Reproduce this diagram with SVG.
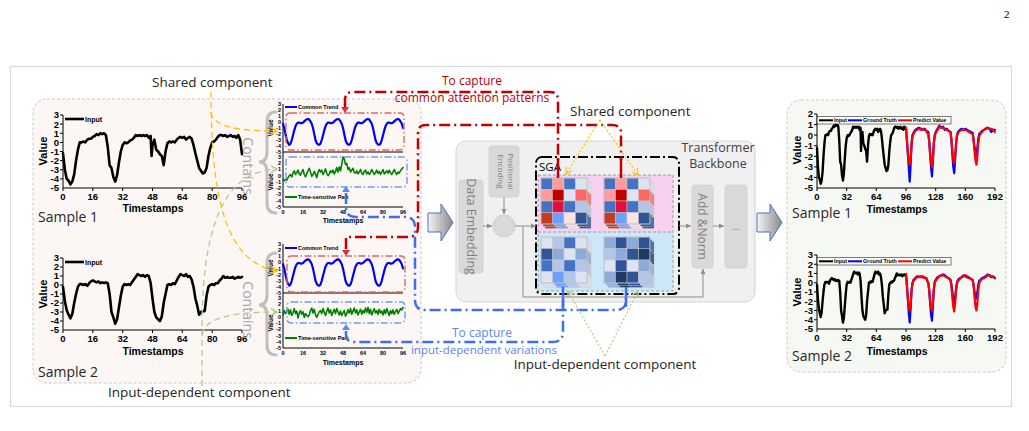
<svg xmlns="http://www.w3.org/2000/svg" width="1029" height="431" viewBox="0 0 1029 431">
<style>
.cal{font-family:"Open Sans","Noto Sans",sans-serif}
.tk{font-family:"Liberation Sans",Arial,sans-serif;font-weight:bold;fill:#000}
.ax{stroke:#000;stroke-width:1;fill:none}
.ln{fill:none;stroke-linejoin:round;stroke-linecap:round;vector-effect:non-scaling-stroke}
.gbox{fill:#d9d9d9;stroke:#cfcfcf;stroke-width:0.8}
.gtx{fill:#7f7f7f}
.red{fill:none;stroke:#c00000;stroke-width:2.5;stroke-dasharray:11,4,2,4}
.blu{fill:none;stroke:#3d6df2;stroke-width:2.5;stroke-dasharray:11,4,2,4}
.rbox{fill:none;stroke:#e06666;stroke-width:1.4;stroke-dasharray:7,2.5,1.5,2.5}
.bbox{fill:none;stroke:#6d9af5;stroke-width:1.4;stroke-dasharray:7,2.5,1.5,2.5}
.brace{fill:none;stroke:#bfbfbf;stroke-width:3;stroke-linecap:round}
.garr{stroke:#8c8c8c;stroke-width:1;fill:none}
</style>
<defs>
<marker id="ag" markerWidth="6" markerHeight="6" refX="5" refY="3" orient="auto" markerUnits="userSpaceOnUse"><path d="M0,0.5 L5,3 L0,5.5 Z" fill="#8c8c8c"/></marker>
<marker id="ay" markerWidth="8" markerHeight="8" refX="7" refY="4" orient="auto" markerUnits="userSpaceOnUse"><path d="M1,0.5 L7,4 L1,7.5" fill="none" stroke="#ffc000" stroke-width="1.5"/></marker>
<marker id="agr" markerWidth="8" markerHeight="8" refX="7" refY="4" orient="auto" markerUnits="userSpaceOnUse"><path d="M1,0.5 L7,4 L1,7.5" fill="none" stroke="#a9d18e" stroke-width="1.5"/></marker>
<marker id="ao" markerWidth="8" markerHeight="8" refX="7" refY="4" orient="auto" markerUnits="userSpaceOnUse"><path d="M1,0.5 L7,4 L1,7.5" fill="none" stroke="#ffc000" stroke-width="1.2"/></marker>
<linearGradient id="blk" x1="0" y1="0" x2="1" y2="0"><stop offset="0" stop-color="#f4f4f4"/><stop offset="1" stop-color="#8a8a8a"/></linearGradient>
<g id="mA" stroke="#c9c9c9" stroke-width="0.5">
<rect x="0" y="0" width="11.5" height="11.5" fill="#4472c4"/><rect x="11.5" y="0" width="11.5" height="11.5" fill="#ff9b9b"/><rect x="23" y="0" width="11.5" height="11.5" fill="#4472c4"/><rect x="34.5" y="0" width="11.5" height="11.5" fill="#dde3f2"/>
<rect x="0" y="11.5" width="11.5" height="11.5" fill="#ff9b9b"/><rect x="11.5" y="11.5" width="11.5" height="11.5" fill="#c00000"/><rect x="23" y="11.5" width="11.5" height="11.5" fill="#dde3f2"/><rect x="34.5" y="11.5" width="11.5" height="11.5" fill="#ff6666"/>
<rect x="0" y="23" width="11.5" height="11.5" fill="#4472c4"/><rect x="11.5" y="23" width="11.5" height="11.5" fill="#e0103a"/><rect x="23" y="23" width="11.5" height="11.5" fill="#4472c4"/><rect x="34.5" y="23" width="11.5" height="11.5" fill="#b4c6e7"/>
<rect x="0" y="34.5" width="11.5" height="11.5" fill="#c23b22"/><rect x="11.5" y="34.5" width="11.5" height="11.5" fill="#6ea0ff"/><rect x="23" y="34.5" width="11.5" height="11.5" fill="#fde3e3"/><rect x="34.5" y="34.5" width="11.5" height="11.5" fill="#2f5597"/>
</g>
<g id="mB" stroke="#c9c9c9" stroke-width="0.5">
<rect x="0" y="0" width="11.5" height="11.5" fill="#dde3f2"/><rect x="11.5" y="0" width="11.5" height="11.5" fill="#b4c6e7"/><rect x="23" y="0" width="11.5" height="11.5" fill="#4472c4"/><rect x="34.5" y="0" width="11.5" height="11.5" fill="#dde3f2"/>
<rect x="0" y="11.5" width="11.5" height="11.5" fill="#2f5597"/><rect x="11.5" y="11.5" width="11.5" height="11.5" fill="#8eaadb"/><rect x="23" y="11.5" width="11.5" height="11.5" fill="#dde3f2"/><rect x="34.5" y="11.5" width="11.5" height="11.5" fill="#8eaadb"/>
<rect x="0" y="23" width="11.5" height="11.5" fill="#4472c4"/><rect x="11.5" y="23" width="11.5" height="11.5" fill="#b4c6e7"/><rect x="23" y="23" width="11.5" height="11.5" fill="#4472c4"/><rect x="34.5" y="23" width="11.5" height="11.5" fill="#b4c6e7"/>
<rect x="0" y="34.5" width="11.5" height="11.5" fill="#dde3f2"/><rect x="11.5" y="34.5" width="11.5" height="11.5" fill="#6ea0ff"/><rect x="23" y="34.5" width="11.5" height="11.5" fill="#b4c6e7"/><rect x="34.5" y="34.5" width="11.5" height="11.5" fill="#dde3f2"/>
</g>
<g id="mC" stroke="#c9c9c9" stroke-width="0.5">
<rect x="0" y="0" width="11.5" height="11.5" fill="#8eaadb"/><rect x="11.5" y="0" width="11.5" height="11.5" fill="#2f5597"/><rect x="23" y="0" width="11.5" height="11.5" fill="#8eaadb"/><rect x="34.5" y="0" width="11.5" height="11.5" fill="#2f5597"/>
<rect x="0" y="11.5" width="11.5" height="11.5" fill="#b4c6e7"/><rect x="11.5" y="11.5" width="11.5" height="11.5" fill="#8eaadb"/><rect x="23" y="11.5" width="11.5" height="11.5" fill="#2f5597"/><rect x="34.5" y="11.5" width="11.5" height="11.5" fill="#1f3864"/>
<rect x="0" y="23" width="11.5" height="11.5" fill="#dde3f2"/><rect x="11.5" y="23" width="11.5" height="11.5" fill="#2f5597"/><rect x="23" y="23" width="11.5" height="11.5" fill="#dde3f2"/><rect x="34.5" y="23" width="11.5" height="11.5" fill="#8eaadb"/>
<rect x="0" y="34.5" width="11.5" height="11.5" fill="#8eaadb"/><rect x="11.5" y="34.5" width="11.5" height="11.5" fill="#1f3864"/><rect x="23" y="34.5" width="11.5" height="11.5" fill="#2f5597"/><rect x="34.5" y="34.5" width="11.5" height="11.5" fill="#b4c6e7"/>
</g>
<polyline id="s1" class="ln" points="0,-1.2 1,-3 2,-4 3,-4.2 4,-4.6 5,-4.3 6,-3.5 7,-2 8,-0.8 9,0 10,0 11,0.1 12,0 13,0.3 14,0.4 15,0.4 16,0.6 17,0.7 18,0.9 19,0.8 20,1 21,0.9 22,1 23,0.8 24,-0.5 25,-2.5 26,-2.8 27,-3.8 28,-4.3 29,-3.6 30,-2.2 31,-1 32,-0.3 33,0 34,-0.1 35,0 36,0.2 37,0.3 38,0.5 39,0.8 40,0.7 41,0.8 42,0.7 43,0.8 44,0.7 45,0.8 46,0.5 47,0.7 47.5,-1.5 48,-0.3 49,0.3 50,-0.8 51,-1 52,-1.3 53,-1.5 54,-2.5 55,-1 56,-0.1 57,0.1 58,0 59,0.1 60,0 61,0.3 62,0.5 63,0.6 64,0.5 65,0.6 66,0.3 67,0.5 68,0.6 69,0.4 70,-0.3 71,-1.2 72,-2 73,-2.8 74,-3.1 75,-3.4 76,-3.3 77,-2.8 78,-1.5 79,-0.6 80,0 81,0.1 82,0.3 83,0.6 84,0.8 85,0.8 86,0.7 87,0.8 88,0.6 89,0.7 90,0.8 91,0.6 92,0.7 93,0.5 94,0.8 95,0.3 96,-1.3"/>
<polyline id="s1r" class="ln" points="0,-1.2 1,-3 2,-4 3,-4.2 4,-4.6 5,-4.3 6,-3.5 7,-2 8,-0.8 9,0 10,0 11,0.1 12,0 13,0.3 14,0.4 15,0.4 16,0.6 17,0.7 18,0.9 19,0.8 20,1 21,0.9 22,1 23,0.8 24,-0.5 25,-2.5 26,-2.8 27,-3.8 28,-4.3 29,-3.6 30,-2.2 31,-1 32,-0.3 33,0 34,-0.1 35,0 36,0.2 37,0.3 38,0.5 39,0.8 40,0.7 41,0.8 42,0.7 43,0.8 44,0.7 45,0.8 46,0.5 47,0.7 47.5,-1.5 48,-0.3 49,0.3 50,-0.8 51,-1 52,-1.3 53,-1.5 54,-2.5 55,-1 56,-0.1 57,0.1 58,0 59,0.1 60,0 61,0.3 62,0.5 63,0.6 64,0.5 65,0.6 66,0.3 67,0.5 68,0.6 69,0.4 70,-0.3 71,-1.2 72,-2 73,-2.8 74,-3.1 75,-3.4 76,-3.3 77,-2.8 78,-1.5 79,-0.6 80,0 81,0.1 82,0.3 83,0.6 84,0.8 85,0.8 86,0.7 87,0.8 88,0.6 89,0.7 90,0.8 91,0.6 92,0.7 93,0.5 94,0.8 95,0.6 96,0.7"/>
<polyline id="s2" class="ln" points="0,-0.2 1,-1.8 2,-2.8 3,-3.3 4,-3.7 5,-3.2 6,-2 7,-1 8,-0.2 9,0.1 10,0.1 11,0 12,0.1 13,-0.1 14,0.2 15,0.4 16,0.5 17,0.4 18,0.3 19,0.4 20,0.2 21,0.3 22,0.2 23,0.3 24,0.2 25,-1 26,-3 27,-3.6 28,-4.3 29,-3.8 30,-2.5 31,-1.2 32,-0.2 33,0.1 34,0 35,0.1 36,0 37,0.3 38,0.6 39,0.9 40,1.2 41,1.1 42,1 43,1.1 44,0.9 45,1.1 46,1 47,0.2 48,-1.5 49,-3 50,-3.6 51,-3.8 52,-4 53,-3.5 54,-2 55,-1 56,0 57,0.1 58,0 59,0.2 60,0.1 61,0.5 62,0.9 63,1.2 64,1.1 65,1 66,1.2 67,0.9 68,1 69,0.6 70,-0.2 71,-1.5 72,-2.3 73,-3.3 74,-3 75,-2.9 76,-2.9 77,-1.2 78,-0.2 79,0 80,0.1 81,0 82,0.2 83,0.2 84,0.5 85,0.7 86,1 87,0.8 88,0.9 89,0.8 90,0.8 91,0.9 92,0.7 93,0.8 94,0.9 95,0.8 96,0.9"/>
<polyline id="ct" class="ln" points="0,-0.3 1,-1 2,-2 3,-3 4,-3.5 5,-3.8 6,-3.6 7,-3 8,-2.2 9,-1.4 10,-0.7 11,-0.3 12,-0.1 13,-0.1 14,-0.2 15,-0.2 16,-0.1 17,0.1 18,0.3 19,0.45 20,0.5 21,0.4 22,0.1 23,-0.3 24,-1 25,-2 26,-3 27,-3.5 28,-3.75 29,-3.8 30,-3.6 31,-3 32,-2.2 33,-1.4 34,-0.7 35,-0.3 36,-0.1 37,-0.1 38,-0.2 39,-0.2 40,-0.1 41,0.1 42,0.3 43,0.45 44,0.5 45,0.4 46,0.1 47,-0.3 48,-1 49,-2 50,-3 51,-3.5 52,-3.75 53,-3.8 54,-3.6 55,-3 56,-2.2 57,-1.4 58,-0.7 59,-0.3 60,-0.1 61,-0.1 62,-0.2 63,-0.2 64,-0.1 65,0.1 66,0.3 67,0.45 68,0.5 69,0.4 70,0.1 71,-0.3 72,-1 73,-2 74,-3 75,-3.5 76,-3.75 77,-3.8 78,-3.6 79,-3 80,-2.2 81,-1.4 82,-0.7 83,-0.3 84,-0.1 85,-0.1 86,-0.2 87,-0.2 88,-0.1 89,0.1 90,0.3 91,0.45 92,0.5 93,0.4 94,0.1 95,-0.3 96,-1"/>
</defs>

<rect x="10.5" y="66.5" width="1001" height="340" fill="none" stroke="#d9d9d9" stroke-width="1.2"/>
<text x="1004" y="18" font-family="Liberation Serif,serif" font-size="11" fill="#000">2</text>

<g id="left-panel">
<rect x="33" y="99" width="388" height="284" rx="14" fill="#fcf7f5" stroke="#c8c8c8" stroke-width="1" stroke-dasharray="3,2"/>
</g>

<g id="sample1-input">
<path class="ax" d="M63,115 V188 H242"/>
<path class="ax" d="M63,188 v3 M92.8,188 v3 M122.7,188 v3 M152.5,188 v3 M182.3,188 v3 M212.2,188 v3 M242,188 v3 M60,115 h3 M60,124.1 h3 M60,133.25 h3 M60,142.4 h3 M60,151.5 h3 M60,160.6 h3 M60,169.75 h3 M60,178.9 h3"/>
<g transform="translate(63,142.375) scale(1.86458,-9.125)"><use href="#s1" stroke="#000" stroke-width="2.6"/></g>
<line x1="65" y1="119" x2="84" y2="119" stroke="#000" stroke-width="2.6"/>
<text class="tk" x="85" y="121.5" font-size="7">Input</text>
<g class="tk" font-size="9.5" text-anchor="end">
<text x="59" y="118.4">3</text><text x="59" y="127.5">2</text><text x="59" y="136.6">1</text><text x="59" y="145.8">0</text><text x="59" y="154.9">-1</text><text x="59" y="164">-2</text><text x="59" y="173.1">-3</text><text x="59" y="182.3">-4</text><text x="59" y="191.4">-5</text>
</g>
<g class="tk" font-size="9.5" text-anchor="middle">
<text x="63" y="200">0</text><text x="92.8" y="200">16</text><text x="122.7" y="200">32</text><text x="152.5" y="200">48</text><text x="182.3" y="200">64</text><text x="212.2" y="200">80</text><text x="242" y="200">96</text>
</g>
<text class="tk" x="153" y="212" font-size="10.5" text-anchor="middle">Timestamps</text>
<text class="tk" font-size="11" text-anchor="middle" transform="translate(47,151) rotate(-90)">Value</text>
<text class="cal" x="38" y="222" font-size="14" fill="#262626">Sample 1</text>
</g>

<g id="sample2-input">
<path class="ax" d="M63,258 V330 H242"/>
<path class="ax" d="M63,330 v3 M92.8,330 v3 M122.7,330 v3 M152.5,330 v3 M182.3,330 v3 M212.2,330 v3 M242,330 v3 M60,258 h3 M60,267 h3 M60,276 h3 M60,285 h3 M60,294 h3 M60,303 h3 M60,312 h3 M60,321 h3"/>
<g transform="translate(63,285) scale(1.86458,-9)"><use href="#s2" stroke="#000" stroke-width="2.6"/></g>
<line x1="65" y1="262" x2="84" y2="262" stroke="#000" stroke-width="2.6"/>
<text class="tk" x="85" y="264.5" font-size="7">Input</text>
<g class="tk" font-size="9.5" text-anchor="end">
<text x="59" y="261.4">3</text><text x="59" y="270.4">2</text><text x="59" y="279.4">1</text><text x="59" y="288.4">0</text><text x="59" y="297.4">-1</text><text x="59" y="306.4">-2</text><text x="59" y="315.4">-3</text><text x="59" y="324.4">-4</text><text x="59" y="333.4">-5</text>
</g>
<g class="tk" font-size="9.5" text-anchor="middle">
<text x="63" y="342">0</text><text x="92.8" y="342">16</text><text x="122.7" y="342">32</text><text x="152.5" y="342">48</text><text x="182.3" y="342">64</text><text x="212.2" y="342">80</text><text x="242" y="342">96</text>
</g>
<text class="tk" x="153" y="355" font-size="10.5" text-anchor="middle">Timestamps</text>
<text class="tk" font-size="11" text-anchor="middle" transform="translate(47,294) rotate(-90)">Value</text>
<text class="cal" x="38" y="377" font-size="14" fill="#262626">Sample 2</text>
</g>

<g id="decomp-sample1">
<path class="brace" d="M276,112 Q267,112 267,122 L267,152 Q267,162 259,162 Q267,162 267,172 L267,203 Q267,213 276,213"/>
<text class="cal" font-size="14" fill="#a6a6a6" text-anchor="middle" dominant-baseline="central" transform="translate(248,166) rotate(90)">Contains</text>
<path class="ax" stroke-width="0.8" d="M283,104 V207 H403 M283,152 H403"/>
<g transform="translate(283,122) scale(1.25,-6)"><use href="#ct" stroke="#0000ff" stroke-width="2.2"/></g>
<g transform="translate(283,175.75) scale(1.25,-6.25)"><polyline class="ln" stroke="#008000" stroke-width="1.6" points="0,-0.5 1,-0.8 2,-0.6 3,-0.7 4,-0.3 5,0 6,0.2 7,-0.2 8,0.4 9,0.8 10,0.2 11,0.5 12,0.9 13,0.3 14,0.1 15,0.6 16,1 17,0.2 18,-0.2 19,0.3 20,0.8 21,1.2 22,0.6 23,-0.1 24,0.2 25,0.7 26,0.3 27,-0.3 28,0.5 29,1 30,0.6 31,0.9 32,0.2 33,0.6 34,1.1 35,0.4 36,0 37,0.3 38,0.8 39,0.5 40,0.9 41,0.3 42,0.7 43,1.3 44,0.6 45,1.4 46,0.8 47,1.9 48,3 49,2.7 50,1.8 51,2 52,1 53,1.3 54,0.6 55,0.9 56,1.2 57,0.5 58,0.4 59,0.8 60,0.3 61,0.6 62,1 63,0.4 64,0.2 65,0.7 66,0.9 67,0.3 68,0.6 69,0.2 70,0.5 71,1 72,0.6 73,0.2 74,0.5 75,0.9 76,0.4 77,0.7 78,0.2 79,0.6 80,1 81,0.3 82,0.5 83,0.8 84,0.4 85,0.9 86,0.5 87,0.2 88,0.6 89,1 90,0.5 91,0.2 92,0.6 93,0.4 94,0.8 95,1.1 96,1.3"/></g>
<rect class="rbox" x="286" y="113" width="118" height="37" rx="4"/>
<rect class="bbox" x="286" y="157" width="121" height="30" rx="4"/>
<path d="M341,107 H349 L345,113 Z" fill="#e03030"/>
<path d="M342,192 H350 L346,186 Z" fill="#5b8af5"/>
<line x1="285" y1="107" x2="297" y2="107" stroke="#0000ff" stroke-width="2"/>
<text class="tk" x="298" y="109" font-size="5.5">Common Trend</text>
<line x1="285" y1="197" x2="297" y2="197" stroke="#008000" stroke-width="2"/>
<text class="tk" x="298" y="199" font-size="5.5">Time-sensitive Part</text>
<g class="tk" font-size="5.5" text-anchor="end">
<text x="281" y="106">3</text><text x="281" y="112">2</text><text x="281" y="118">1</text><text x="281" y="124">0</text><text x="281" y="130">-1</text><text x="281" y="136">-2</text><text x="281" y="142">-3</text><text x="281" y="148">-4</text><text x="281" y="154">-5</text>
<text x="281" y="159">3</text><text x="281" y="165">2</text><text x="281" y="171.3">1</text><text x="281" y="177.5">0</text><text x="281" y="183.8">-1</text><text x="281" y="190">-2</text><text x="281" y="196.3">-3</text><text x="281" y="202.5">-4</text><text x="281" y="208.8">-5</text>
</g>
<g class="tk" font-size="5.5" text-anchor="middle">
<text x="283" y="214">0</text><text x="303" y="214">16</text><text x="323" y="214">32</text><text x="343" y="214">48</text><text x="363" y="214">64</text><text x="383" y="214">80</text><text x="403" y="214">96</text>
</g>
<text class="tk" x="343" y="223" font-size="7" text-anchor="middle">Timestamps</text>
<text class="tk" font-size="6.5" text-anchor="middle" transform="translate(273,128) rotate(-90)">Value</text>
<text class="tk" font-size="6.5" text-anchor="middle" transform="translate(273,182) rotate(-90)">Value</text>
</g>

<g id="decomp-sample2">
<path class="brace" d="M276,253 Q267,253 267,263 L267,295 Q267,305 259,305 Q267,305 267,315 L267,345 Q267,355 276,355"/>
<text class="cal" font-size="14" fill="#a6a6a6" text-anchor="middle" dominant-baseline="central" transform="translate(248,310) rotate(90)">Contains</text>
<path class="ax" stroke-width="0.8" d="M283,244 V348 H403 M283,293 H403"/>
<g transform="translate(283,262.375) scale(1.25,-6.125)"><use href="#ct" stroke="#0000ff" stroke-width="2.2"/></g>
<g transform="translate(283,316.75) scale(1.25,-6.25)"><polyline class="ln" stroke="#008000" stroke-width="1.6" points="0,0.3 1,1 2,0.5 3,0.8 4,1.2 5,0.4 6,1.1 7,0.2 8,0.6 9,1.3 10,0.5 11,0.9 12,-0.2 13,0.6 14,1 15,0.4 16,0.8 17,-0.1 18,0.5 19,0.2 20,0 21,0.3 22,1 23,1.4 24,0.6 25,1.2 26,0.3 27,-0.1 28,0.4 29,0.8 30,1 31,0.5 32,1.3 33,0.7 34,0.2 35,0.9 36,1.4 37,0.6 38,1.1 39,0.2 40,0.7 41,1.2 42,0.5 43,1.3 44,0.8 45,0.3 46,0.9 47,0.2 48,0.6 49,1 50,0.1 51,0.5 52,1.1 53,0.6 54,1.3 55,0.4 56,0.9 57,1.4 58,0.6 59,1.1 60,0.3 61,0.8 62,1.2 63,0.4 64,1 65,0.6 66,1.4 67,0.7 68,1.5 69,0.5 70,1.2 71,0.3 72,0.8 73,1.3 74,0.6 75,1 76,0.4 77,1.2 78,0.6 79,0.9 80,0.3 81,1.1 82,0.5 83,1.3 84,0.7 85,0.2 86,1 87,0.5 88,1.1 89,0.4 90,0.8 91,1.2 92,0.5 93,0.9 94,1.3 95,1.1 96,1.5"/></g>
<rect class="rbox" x="287" y="256" width="118" height="36" rx="4"/>
<rect class="bbox" x="287" y="302" width="118" height="21" rx="4"/>
<path d="M342,250 H350 L346,256 Z" fill="#e03030"/>
<path d="M342,330 H350 L346,324 Z" fill="#5b8af5"/>
<line x1="285" y1="248" x2="297" y2="248" stroke="#0000ff" stroke-width="2"/>
<text class="tk" x="298" y="250" font-size="5.5">Common Trend</text>
<line x1="285" y1="338" x2="297" y2="338" stroke="#008000" stroke-width="2"/>
<text class="tk" x="298" y="340" font-size="5.5">Time-sensitive Part</text>
<g class="tk" font-size="5.5" text-anchor="end">
<text x="281" y="246">3</text><text x="281" y="252.1">2</text><text x="281" y="258.3">1</text><text x="281" y="264.4">0</text><text x="281" y="270.5">-1</text><text x="281" y="276.6">-2</text><text x="281" y="282.8">-3</text><text x="281" y="288.9">-4</text><text x="281" y="295">-5</text>
<text x="281" y="300">3</text><text x="281" y="306.3">2</text><text x="281" y="312.5">1</text><text x="281" y="318.8">0</text><text x="281" y="325">-1</text><text x="281" y="331.3">-2</text><text x="281" y="337.5">-3</text><text x="281" y="343.8">-4</text><text x="281" y="350">-5</text>
</g>
<g class="tk" font-size="5.5" text-anchor="middle">
<text x="283" y="355">0</text><text x="303" y="355">16</text><text x="323" y="355">32</text><text x="343" y="355">48</text><text x="363" y="355">64</text><text x="383" y="355">80</text><text x="403" y="355">96</text>
</g>
<text class="tk" x="343" y="365" font-size="7" text-anchor="middle">Timestamps</text>
<text class="tk" font-size="6.5" text-anchor="middle" transform="translate(273,268) rotate(-90)">Value</text>
<text class="tk" font-size="6.5" text-anchor="middle" transform="translate(273,323) rotate(-90)">Value</text>
</g>

<g id="labels">
<text class="cal" x="152" y="87" font-size="13.5" fill="#262626">Shared component</text>
<text class="cal" x="108" y="397" font-size="13.5" fill="#262626">Input-dependent component</text>
<text class="cal" x="570" y="116" font-size="13.5" fill="#262626">Shared component</text>
<text class="cal" x="605" y="369" font-size="13.5" fill="#262626" text-anchor="middle">Input-dependent component</text>
<text class="cal" x="472" y="85" font-size="12" fill="#c00000" text-anchor="middle">To capture</text>
<text class="cal" x="472" y="102" font-size="12" fill="#c00000" text-anchor="middle">common attention patterns</text>
<text class="cal" x="482" y="337" font-size="12" fill="#5b84f5" text-anchor="middle">To capture</text>
<text class="cal" x="484" y="354" font-size="11.5" fill="#5b84f5" text-anchor="middle">input-dependent variations</text>
</g>

<g id="transformer-backbone">
<rect x="456" y="141" width="299" height="161" rx="10" fill="#f0f0f0" stroke="#d6d6d6" stroke-width="1"/>
<text class="cal" x="718" y="152" font-size="12.5" fill="#404040" text-anchor="middle">Transformer</text>
<text class="cal" x="718" y="168" font-size="12.5" fill="#404040" text-anchor="middle">Backbone</text>
</g>
<g id="data-embedding">
<rect class="gbox" x="459" y="180" width="24" height="93" rx="3"/>
<text class="cal gtx" font-size="12.5" text-anchor="middle" dominant-baseline="central" transform="translate(471,226.5) rotate(90)">Data Embedding</text>
</g>
<g id="positional-encoding">
<rect class="gbox" x="489" y="146" width="30" height="51" rx="3"/>
<g class="cal gtx" font-size="8" text-anchor="middle" transform="translate(504,171.5) rotate(90)"><text x="0" y="-4">Positional</text><text x="0" y="6">Encoding</text></g>
</g>
<g id="sum-node"><circle cx="504" cy="226" r="11" fill="#d9d9d9" stroke="#cfcfcf"/></g>
<g id="sga">
<rect x="536" y="157" width="143" height="137" rx="6" fill="none" stroke="#000" stroke-width="2" stroke-dasharray="10,3,2,3"/>
<rect x="538" y="175" width="135" height="57" fill="#f8d0f0"/>
<rect x="538" y="232" width="135" height="59" fill="#cce8f8"/>
<rect x="538" y="175" width="135" height="116" fill="none" stroke="#8c8c8c" stroke-width="0.8" stroke-dasharray="3,2"/>
<line x1="538" y1="232" x2="673" y2="232" stroke="#8c8c8c" stroke-width="0.8" stroke-dasharray="3,2"/>
<text class="cal" x="539" y="171" font-size="11.5" fill="#000">SGA</text>
</g>
<g id="shared-matrix-1" transform="translate(541,178)">
<use href="#mA" x="4" y="4.5"/><use href="#mA" x="2" y="2.3"/><use href="#mA"/>
<rect width="46" height="46" fill="none" stroke="#bdbdbd" stroke-width="0.8"/>
</g>
<g id="shared-matrix-2" transform="translate(604,178)">
<use href="#mA" x="4" y="4.5"/><use href="#mA" x="2" y="2.3"/><use href="#mA"/>
<rect width="46" height="46" fill="none" stroke="#bdbdbd" stroke-width="0.8"/>
</g>
<g id="input-matrix-1" transform="translate(541,237)">
<use href="#mB" x="4" y="4.5"/><use href="#mB" x="2" y="2.3"/><use href="#mB"/>
<rect width="46" height="46" fill="none" stroke="#bdbdbd" stroke-width="0.8"/>
</g>
<g id="input-matrix-2" transform="translate(604,237)">
<use href="#mC" x="4" y="4.5"/><use href="#mC" x="2" y="2.3"/><use href="#mC"/>
<rect width="46" height="46" fill="none" stroke="#bdbdbd" stroke-width="0.8"/>
</g>
<g id="add-norm">
<rect class="gbox" x="692" y="185" width="21" height="83" rx="3"/>
<text class="cal gtx" font-size="12" text-anchor="middle" dominant-baseline="central" transform="translate(702.5,226.5) rotate(90)">Add &amp;Norm</text>
</g>
<g id="more-layers">
<rect class="gbox" x="725" y="185" width="22" height="83" rx="3"/>
<text class="cal gtx" x="736" y="230" font-size="11" text-anchor="middle">...</text>
</g>

<g id="block-arrow-1"><path d="M428,213 H441 V204 L453,222.5 L441,241 V232 H428 Z" fill="url(#blk)" stroke="#4472c4" stroke-width="1"/></g>
<g id="block-arrow-2"><path d="M757,213 H770 V204 L782,222.5 L770,241 V232 H757 Z" fill="url(#blk)" stroke="#4472c4" stroke-width="1"/></g>

<g id="right-panel">
<rect x="787" y="100" width="219" height="272" rx="14" fill="#f6f8f3" stroke="#c8c8c8" stroke-width="1" stroke-dasharray="3,2"/>
</g>
<g id="forecast-sample1">
<path class="ax" d="M817,114 V188 H995"/>
<path class="ax" d="M817,188 v3 M846.7,188 v3 M876.3,188 v3 M906,188 v3 M935.7,188 v3 M965.3,188 v3 M995,188 v3 M814,114 h3 M814,124.6 h3 M814,135.1 h3 M814,145.7 h3 M814,156.3 h3 M814,166.9 h3 M814,177.4 h3"/>
<g transform="translate(817,135.14) scale(0.92708,-10.571)">
<use href="#s1r" stroke="#000" stroke-width="2.4"/>
<polyline class="ln" stroke="#0000ff" stroke-width="2.2" points="96,0.7 97,-0.5 98,-1.8 99,-3 100,-4.4 101,-2.8 102,-0.8 103,0 104,0.2 106,0.5 108,0.6 110,0.7 112,0.6 114,0.5 116,0.6 118,0.4 119,0.3 120,0.3 121,-0.5 122,-1.8 123,-3 124,-3.9 125,-2.5 126,-0.8 127,0 128,0.3 130,0.6 132,0.9 134,0.7 136,0.8 138,0.5 140,0.6 142,0.4 144,0.3 145,-0.5 146,-1.8 147,-3 148,-3.6 149,-2.3 150,-0.8 151,0 152,0.3 154,0.5 156,0.6 158,0.5 160,0.6 162,0.5 164,0.4 166,0.3 168,0.2 169,-0.5 170,-1.2 171,-1.6 172,-1.9 173,-1.2 174,-0.3 175,0.1 176,0.2 178,0.4 180,0.5 182,0.6 184,0.7 186,0.6 188,0.3 190,0.5 192,0.5"/>
<polyline class="ln" stroke="#ff0000" stroke-width="2.2" points="96,0.7 97,-0.5 98,-1.6 99,-2.4 100,-2.8 101,-2.3 102,-0.8 103,-0.1 104,0.1 106,0.4 108,0.5 110,0.6 112,0.5 114,0.6 116,0.5 118,0.4 119,0.2 120,0.1 121,-0.6 122,-1.7 123,-2.6 124,-3 125,-2.2 126,-0.8 127,-0.1 128,0.2 130,0.5 132,0.8 134,0.7 136,0.7 138,0.6 140,0.5 142,0.4 144,0.3 145,-0.4 146,-1.5 147,-2.3 148,-2.7 149,-2 150,-0.8 151,-0.1 152,0.2 154,0.4 156,0.5 158,0.5 160,0.5 162,0.4 164,0.3 166,0.2 168,0.1 169,-0.6 170,-1.6 171,-2.4 172,-2.8 173,-2 174,-0.7 175,-0.1 176,0.1 178,0.3 180,0.5 182,0.6 184,0.7 186,0.6 188,0.6 190,0.5 192,0.3"/>
</g>
<rect x="817" y="116.5" width="134" height="7.5" fill="#fff" fill-opacity="0.6" stroke="#000" stroke-width="0.5"/>
<line x1="819" y1="120.3" x2="833" y2="120.3" stroke="#000" stroke-width="2"/><text class="tk" x="834" y="122.3" font-size="5.3">Input</text>
<line x1="848" y1="120.3" x2="862" y2="120.3" stroke="#0000ff" stroke-width="2"/><text class="tk" x="863" y="122.3" font-size="5.3">Ground Truth</text>
<line x1="898" y1="120.3" x2="912" y2="120.3" stroke="#ff0000" stroke-width="2"/><text class="tk" x="913" y="122.3" font-size="5.3">Predict Value</text>
<g class="tk" font-size="9.5" text-anchor="end">
<text x="813" y="117.4">2</text><text x="813" y="128">1</text><text x="813" y="138.5">0</text><text x="813" y="149.1">-1</text><text x="813" y="159.7">-2</text><text x="813" y="170.3">-3</text><text x="813" y="180.8">-4</text><text x="813" y="191.4">-5</text>
</g>
<g class="tk" font-size="9.5" text-anchor="middle">
<text x="817" y="200">0</text><text x="846.7" y="200">32</text><text x="876.3" y="200">64</text><text x="906" y="200">96</text><text x="935.7" y="200">128</text><text x="965.3" y="200">160</text><text x="995" y="200">192</text>
</g>
<text class="tk" x="897" y="213" font-size="10.5" text-anchor="middle">Timestamps</text>
<text class="tk" font-size="11" text-anchor="middle" transform="translate(801,150) rotate(-90)">Value</text>
<text class="cal" x="792" y="218" font-size="14" fill="#262626">Sample 1</text>
</g>
<g id="forecast-sample2">
<path class="ax" d="M817,255 V329 H995"/>
<path class="ax" d="M817,329 v3 M846.7,329 v3 M876.3,329 v3 M906,329 v3 M935.7,329 v3 M965.3,329 v3 M995,329 v3 M814,255 h3 M814,264.25 h3 M814,273.5 h3 M814,282.75 h3 M814,292 h3 M814,301.25 h3 M814,310.5 h3 M814,319.75 h3"/>
<g transform="translate(817,282.75) scale(0.92708,-9.25)">
<use href="#s2" stroke="#000" stroke-width="2.4"/>
<polyline class="ln" stroke="#0000ff" stroke-width="2.2" points="96,0.9 97,-0.3 98,-1.8 99,-3.2 100,-4.3 101,-2.8 102,-0.8 103,0 104,0.3 106,0.5 108,0.7 110,0.6 112,0.7 114,0.6 116,0.5 118,0.5 119,0.2 120,0 121,-0.8 122,-2.2 123,-3.4 124,-4.1 125,-2.6 126,-0.8 127,0.1 128,0.3 130,0.6 132,0.7 134,0.8 136,0.9 138,0.8 140,0.6 142,0.5 144,0.3 145,-0.2 146,-1 147,-1.8 148,-2.4 149,-1.6 150,-0.6 151,0 152,0.3 154,0.5 156,0.6 158,0.8 160,0.7 162,0.6 164,0.5 166,0.4 168,0.3 169,-0.3 170,-1 171,-1.5 172,-1.7 173,-1 174,-0.2 175,0.2 176,0.3 178,0.5 180,0.6 182,0.7 184,0.9 186,0.8 188,0.6 190,0.7 192,0.5"/>
<polyline class="ln" stroke="#ff0000" stroke-width="2.2" points="96,0.9 97,-0.4 98,-1.7 99,-2.6 100,-3 101,-2.3 102,-0.8 103,-0.1 104,0.2 106,0.4 108,0.6 110,0.7 112,0.6 114,0.7 116,0.6 118,0.4 119,0.2 120,0 121,-0.7 122,-1.9 123,-2.7 124,-3 125,-2.2 126,-0.7 127,0 128,0.2 130,0.5 132,0.7 134,0.8 136,0.8 138,0.7 140,0.6 142,0.5 144,0.3 145,-0.4 146,-1.6 147,-2.6 148,-3.1 149,-2.3 150,-0.8 151,-0.1 152,0.2 154,0.4 156,0.6 158,0.7 160,0.8 162,0.7 164,0.6 166,0.4 168,0.3 169,-0.5 170,-1.6 171,-2.6 172,-3 173,-2.2 174,-0.8 175,-0.1 176,0.2 178,0.4 180,0.5 182,0.6 184,0.8 186,0.8 188,0.7 190,0.6 192,0.5"/>
</g>
<rect x="817" y="257.5" width="134" height="7.5" fill="#fff" fill-opacity="0.6" stroke="#000" stroke-width="0.5"/>
<line x1="819" y1="261.3" x2="833" y2="261.3" stroke="#000" stroke-width="2"/><text class="tk" x="834" y="263.3" font-size="5.3">Input</text>
<line x1="848" y1="261.3" x2="862" y2="261.3" stroke="#0000ff" stroke-width="2"/><text class="tk" x="863" y="263.3" font-size="5.3">Ground Truth</text>
<line x1="898" y1="261.3" x2="912" y2="261.3" stroke="#ff0000" stroke-width="2"/><text class="tk" x="913" y="263.3" font-size="5.3">Predict Value</text>
<g class="tk" font-size="9.5" text-anchor="end">
<text x="813" y="258.4">3</text><text x="813" y="267.6">2</text><text x="813" y="276.9">1</text><text x="813" y="286.1">0</text><text x="813" y="295.4">-1</text><text x="813" y="304.6">-2</text><text x="813" y="313.9">-3</text><text x="813" y="323.1">-4</text><text x="813" y="332.4">-5</text>
</g>
<g class="tk" font-size="9.5" text-anchor="middle">
<text x="817" y="341">0</text><text x="846.7" y="341">32</text><text x="876.3" y="341">64</text><text x="906" y="341">96</text><text x="935.7" y="341">128</text><text x="965.3" y="341">160</text><text x="995" y="341">192</text>
</g>
<text class="tk" x="897" y="355" font-size="10.5" text-anchor="middle">Timestamps</text>
<text class="tk" font-size="11" text-anchor="middle" transform="translate(801,292) rotate(-90)">Value</text>
<text class="cal" x="792" y="361" font-size="14" fill="#262626">Sample 2</text>
</g>

<g id="connectors">
<path d="M211,92 C211,200 226,262 277,271" fill="none" stroke="#ffc000" stroke-width="1.3" stroke-dasharray="6,4" marker-end="url(#ay)"/>
<path d="M211,112 C213,127 238,131 277,131" fill="none" stroke="#ffc000" stroke-width="1.3" stroke-dasharray="6,4" marker-end="url(#ay)"/>
<path d="M202,386 L202,330 C202,235 220,171 277,169" fill="none" stroke="#a9d18e" stroke-width="1.3" stroke-dasharray="6,4" marker-end="url(#agr)"/>
<path d="M202,335 C205,318 230,312 277,312" fill="none" stroke="#a9d18e" stroke-width="1.3" stroke-dasharray="6,4" marker-end="url(#agr)"/>
<path class="red" d="M345,107 V100 Q345,92 353,92 H550 Q558,92 558,100 V160"/>
<path class="red" d="M346,249 V237 H408 Q418,237 418,227 V133 Q418,125 426,125 H612 Q621,125 621,133 V160"/>
<path d="M558,158 V178 M621,158 V178" stroke="#c00000" stroke-width="2.5" fill="none"/>
<path class="blu" d="M346,193 V207 Q346,217 356,217 H405 Q415,217 415,227 V300 Q415,310 425,310 H616 Q626,310 626,300 V294"/>
<path class="blu" d="M346,331 V334 Q346,342 354,342 H553 Q563,342 563,332 V296"/>
<path d="M563,287 V307 M626,287 V307" stroke="#3d6df2" stroke-width="2.5" fill="none"/>
<path d="M600,120 L566,174" fill="none" stroke="#ffc000" stroke-width="1.2" stroke-dasharray="2,2" marker-end="url(#ao)"/>
<path d="M600,120 L638,175" fill="none" stroke="#ffc000" stroke-width="1.2" stroke-dasharray="2,2" marker-end="url(#ao)"/>
<path d="M605,356 L568,291" fill="none" stroke="#a9d18e" stroke-width="1.2" stroke-dasharray="2,2" marker-end="url(#agr)"/>
<path d="M605,356 L638,291" fill="none" stroke="#a9d18e" stroke-width="1.2" stroke-dasharray="2,2" marker-end="url(#agr)"/>
<path class="garr" d="M504,197 V214" marker-end="url(#ag)"/>
<path class="garr" d="M483,226 H492" marker-end="url(#ag)"/>
<path class="garr" d="M515,226 H536" marker-end="url(#ag)"/>
<path class="garr" d="M523,226 V297 H703 V269" marker-end="url(#ag)"/>
<path class="garr" d="M679,226 H691" marker-end="url(#ag)"/>
<path class="garr" d="M713,226 H724" marker-end="url(#ag)"/>
</g>
</svg>
